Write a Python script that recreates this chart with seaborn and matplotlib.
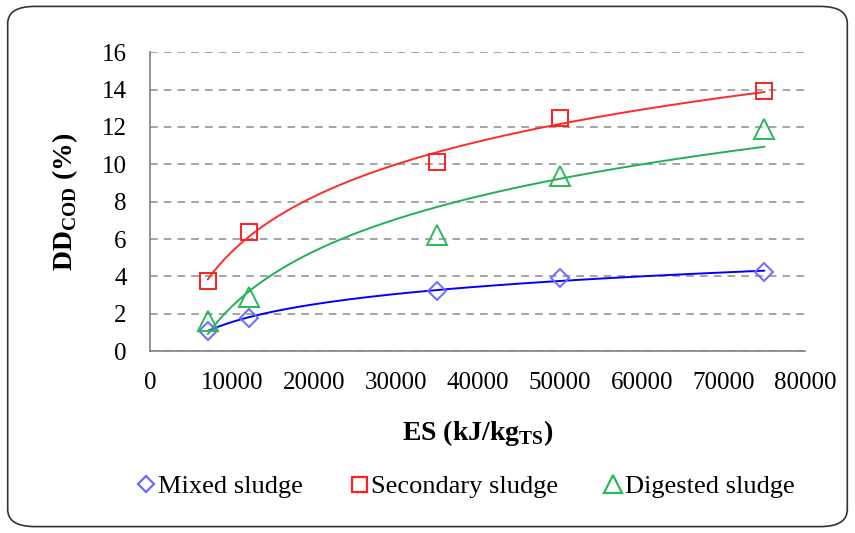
import numpy as np
import pandas as pd
import matplotlib
matplotlib.use("Agg")
import matplotlib.pyplot as plt
import seaborn as sns
from matplotlib.patches import FancyBboxPatch
from matplotlib.lines import Line2D

# Specific energy (kJ/kg TS) and COD disintegration degree (%)
es = [7000, 12000, 35000, 50000, 75000]
mixed = [1.1, 1.8, 3.2, 3.9, 4.25]
secondary = [3.75, 6.4, 10.1, 12.5, 13.9]
digested = [1.6, 2.9, 6.2, 9.4, 11.9]

series_names = ["Mixed sludge", "Secondary sludge", "Digested sludge"]
x_ticks = [0, 10000, 20000, 30000, 40000, 50000, 60000, 70000, 80000]
y_ticks = [0, 2, 4, 6, 8, 10, 12, 14, 16]

sns.set_theme(style="white")
plt.rcParams["font.family"] = ["Liberation Serif", "DejaVu Serif"]
plt.rcParams["mathtext.fontset"] = "custom"
plt.rcParams["mathtext.rm"] = "Liberation Serif:bold"
plt.rcParams["mathtext.bf"] = "Liberation Serif:bold"
plt.rcParams["text.color"] = "black"
plt.rcParams["axes.labelcolor"] = "black"

df = pd.DataFrame({
    "ES": es * 3,
    "DD": mixed + secondary + digested,
    "Sludge": [n for n in series_names for _ in es],
})

fig = plt.figure(figsize=(8.55, 5.33), dpi=100)
ax = fig.add_axes([0.176, 0.341, 0.766, 0.561])

# rounded outer frame
frame = FancyBboxPatch((0.009, 0.012), 0.982, 0.976,
                       boxstyle="round,pad=0,rounding_size=0.032",
                       transform=fig.transFigure, fill=False,
                       edgecolor="#333333", linewidth=1.2, zorder=-1)
fig.patches.append(frame)

styles = {
    "Mixed sludge": dict(marker="D", mcolor="#6a6aff", lcolor="#0000ff", ms=9),
    "Secondary sludge": dict(marker="s", mcolor="#ff2020", lcolor="#ff2a2a", ms=12),
    "Digested sludge": dict(marker="^", mcolor="#2db85c", lcolor="#22b055", ms=14),
}

# logarithmic trend lines
xs = np.linspace(min(es), max(es), 200)
for name in series_names:
    sub = df[df.Sludge == name]
    a, b = np.polyfit(np.log(sub.ES), sub.DD, 1)
    fit = pd.DataFrame({"ES": xs, "DD": a * np.log(xs) + b})
    sns.lineplot(data=fit, x="ES", y="DD", ax=ax, color=styles[name]["lcolor"],
                 linewidth=1.4, zorder=3)

for name in series_names:
    st = styles[name]
    sub = df[df.Sludge == name]
    ax.plot(sub.ES, sub.DD, linestyle="none", marker=st["marker"],
            markersize=st["ms"], markerfacecolor="none",
            markeredgecolor=st["mcolor"], markeredgewidth=1.4, zorder=4)

ax.set_xlim(0, 80000)
ax.set_ylim(0, 16)
ax.set_xticks(x_ticks)
ax.set_yticks(y_ticks)
ax.set_xticklabels([str(t) for t in x_ticks])
ax.set_yticklabels([str(t) for t in y_ticks])
ax.tick_params(axis="x", direction="in", length=7, width=1, color="#808080",
               labelsize=18, pad=15, labelcolor="black")
ax.tick_params(axis="y", length=0, labelsize=18, pad=17, labelcolor="black")

ax.yaxis.grid(True, linestyle=(0, (5, 4)), color="#8c8c8c", linewidth=1.1)
ax.xaxis.grid(False)
for s in ["top", "right"]:
    ax.spines[s].set_visible(False)
for s in ["left", "bottom"]:
    ax.spines[s].set_color("#808080")
    ax.spines[s].set_linewidth(1.2)

ax.set_xlabel(r"ES (kJ/kg$_{\mathrm{TS}}$)", fontsize=20, fontweight="bold", labelpad=17)
ax.set_ylabel(r"DD$_{\mathrm{COD}}$ (%)", fontsize=20, fontweight="bold", labelpad=16)

handles = []
for name in series_names:
    st = styles[name]
    handles.append(Line2D([], [], linestyle="none", marker=st["marker"],
                          markersize=st["ms"] * 0.9, markerfacecolor="none",
                          markeredgecolor=st["mcolor"], markeredgewidth=1.6))
fig.legend(handles, series_names, loc="center", bbox_to_anchor=(0.545, 0.088),
           ncol=3, frameon=False, fontsize=19, handlelength=0.7,
           handletextpad=0.1, columnspacing=1.75)

fig.savefig("out.png", dpi=100)
